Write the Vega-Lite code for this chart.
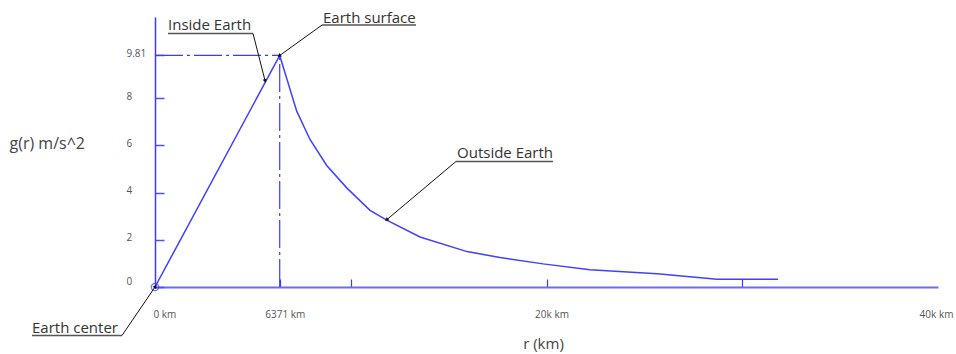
{
  "$schema": "https://vega.github.io/schema/vega-lite/v6.json",
  "autosize": {"type": "none"},
  "width": 783,
  "height": 270,
  "padding": {"left": 155, "top": 17, "right": 18, "bottom": 67},
  "background": "white",
  "config": {"view": {"stroke": null}, "font": "Open Sans"},
  "datasets": {
    "curve": [
      {"r": 0, "g": 0},
      {"r": 6371, "g": 9.81},
      {"r": 7240, "g": 7.45},
      {"r": 7919, "g": 6.25},
      {"r": 8772, "g": 5.15},
      {"r": 9794, "g": 4.2},
      {"r": 10984, "g": 3.25},
      {"r": 11838, "g": 2.83},
      {"r": 13539, "g": 2.12},
      {"r": 15940, "g": 1.5},
      {"r": 17626, "g": 1.25},
      {"r": 19822, "g": 0.98},
      {"r": 22224, "g": 0.73},
      {"r": 25647, "g": 0.56},
      {"r": 28712, "g": 0.33},
      {"r": 31829, "g": 0.33}
    ],
    "guides": [
      {"r": 0, "g": 9.81, "r2": 6371, "g2": 9.81},
      {"r": 6371, "g": 0, "r2": 6371, "g2": 9.81}
    ],
    "labels": [
      {"label": "Inside Earth", "r": 664, "g": 11.08},
      {"label": "Earth surface", "r": 8583, "g": 11.4},
      {"label": "Outside Earth", "r": 15429, "g": 5.69},
      {"label": "Earth center", "r": -6284, "g": -1.716}
    ],
    "underlines": [
      {"r": 664, "g": 10.74, "r2": 5007, "g2": 10.74},
      {"r": 8532, "g": 11.1, "r2": 13335, "g2": 11.1},
      {"r": 15378, "g": 5.32, "r2": 20334, "g2": 5.32},
      {"r": -6284, "g": -2.055, "r2": -1686, "g2": -2.055}
    ],
    "leaders": [
      {"name": "inside", "r": 5007, "g": 10.74, "r2": 5620, "g2": 8.75},
      {"name": "surface", "r": 8532, "g": 11.1, "r2": 6371, "g2": 9.81},
      {"name": "outside", "r": 15378, "g": 5.32, "r2": 11853, "g2": 2.86},
      {"name": "center", "r": -1686, "g": -2.055, "r2": 0, "g2": 0}
    ],
    "origin": [{"r": 0, "g": 0}]
  },
  "encoding": {
    "x": {
      "field": "r",
      "type": "quantitative",
      "scale": {"domain": [0, 40000], "nice": false, "zero": false},
      "axis": {
        "values": [0, 6371, 10000, 20000, 30000, 40000],
        "labelExpr": "datum.value == 0 ? '0 km' : datum.value == 6371 ? '6371 km' : datum.value == 20000 ? '20k km' : datum.value == 40000 ? '40k km' : ''",
        "labelAlign": {"condition": {"test": "datum.value == 0", "value": "left"}, "value": "center"},
        "labelOffset": {"condition": {"test": "datum.value == 40000 || datum.value == 0", "value": -2}, "value": 5},
        "labelBaseline": "middle",
        "labelPadding": 35,
        "labelFontSize": 10,
        "labelColor": "#555555",
        "labelFlush": false,
        "labelOverlap": false,
        "tickSize": -8,
        "tickColor": "#3b3bff",
        "tickOpacity": {"condition": {"test": "datum.value == 40000 || datum.value == 0", "value": 0}, "value": 1},
        "tickWidth": 1.2,
        "domainColor": "#6a6aff",
        "domainWidth": 2,
        "grid": false,
        "title": "r (km)",
        "titleFontSize": 15,
        "titleFontWeight": "normal",
        "titleColor": "#444444",
        "titleX": 388,
        "titleY": 56,
        "titleAlign": "center",
        "titleBaseline": "middle"
      }
    },
    "y": {
      "field": "g",
      "type": "quantitative",
      "scale": {"domain": [0, 11.44], "nice": false, "zero": false},
      "axis": {
        "values": [0, 2, 4, 6, 8, 9.81],
        "format": ".3~g",
        "labelAlign": "left",
        "labelBaseline": "middle",
        "labelOffset": {"condition": {"test": "datum.value == 0", "value": -6}, "value": -2},
        "labelPadding": 38,
        "labelFontSize": 10,
        "labelColor": "#555555",
        "tickSize": -9,
        "tickColor": "#5050ff",
        "tickWidth": 1.5,
        "domainColor": "#3b3bff",
        "domainWidth": 1.5,
        "grid": false,
        "title": "g(r) m/s^2",
        "titleAngle": 0,
        "titleFontSize": 16,
        "titleFontWeight": "normal",
        "titleColor": "#444444",
        "titleX": -146,
        "titleY": 126,
        "titleAlign": "left",
        "titleBaseline": "middle"
      }
    }
  },
  "layer": [
    {
      "data": {"name": "guides"},
      "mark": {"type": "rule", "color": "#3b3bff", "strokeWidth": 1.2, "strokeDash": [28, 4, 3, 4]},
      "encoding": {"x2": {"field": "r2"}, "y2": {"field": "g2"}}
    },
    {
      "data": {"name": "curve"},
      "mark": {"type": "line", "color": "#4040ff", "strokeWidth": 1.5},
      "encoding": {}
    },
    {
      "data": {"name": "origin"},
      "mark": {"type": "point", "shape": "circle", "filled": false, "color": "#3b3bff", "size": 55, "strokeWidth": 1.3},
      "encoding": {}
    },
    {
      "data": {"name": "underlines"},
      "mark": {"type": "rule", "color": "#555555", "strokeWidth": 1.5},
      "encoding": {"x2": {"field": "r2"}, "y2": {"field": "g2"}}
    },
    {
      "data": {"name": "leaders"},
      "mark": {"type": "rule", "color": "#111111", "strokeWidth": 1},
      "encoding": {"x2": {"field": "r2"}, "y2": {"field": "g2"}}
    },
    {
      "data": {"name": "leaders"},
      "transform": [{"filter": "datum.name == 'inside'"}],
      "mark": {"type": "point", "shape": "triangle", "filled": true, "color": "#111111", "size": 18, "angle": 166, "opacity": 1},
      "encoding": {"x": {"field": "r2", "type": "quantitative"}, "y": {"field": "g2", "type": "quantitative"}}
    },
    {
      "data": {"name": "leaders"},
      "transform": [{"filter": "datum.name == 'surface'"}],
      "mark": {"type": "point", "shape": "triangle", "filled": true, "color": "#111111", "size": 18, "angle": 234, "opacity": 1},
      "encoding": {"x": {"field": "r2", "type": "quantitative"}, "y": {"field": "g2", "type": "quantitative"}}
    },
    {
      "data": {"name": "leaders"},
      "transform": [{"filter": "datum.name == 'outside'"}],
      "mark": {"type": "point", "shape": "triangle", "filled": true, "color": "#111111", "size": 18, "angle": 230, "opacity": 1},
      "encoding": {"x": {"field": "r2", "type": "quantitative"}, "y": {"field": "g2", "type": "quantitative"}}
    },
    {
      "data": {"name": "leaders"},
      "transform": [{"filter": "datum.name == 'center'"}],
      "mark": {"type": "point", "shape": "triangle", "filled": true, "color": "#111111", "size": 18, "angle": 34, "opacity": 1},
      "encoding": {"x": {"field": "r2", "type": "quantitative"}, "y": {"field": "g2", "type": "quantitative"}}
    },
    {
      "data": {"name": "labels"},
      "mark": {"type": "text", "align": "left", "baseline": "middle", "fontSize": 15, "color": "#333333"},
      "encoding": {"text": {"field": "label"}}
    }
  ]
}
